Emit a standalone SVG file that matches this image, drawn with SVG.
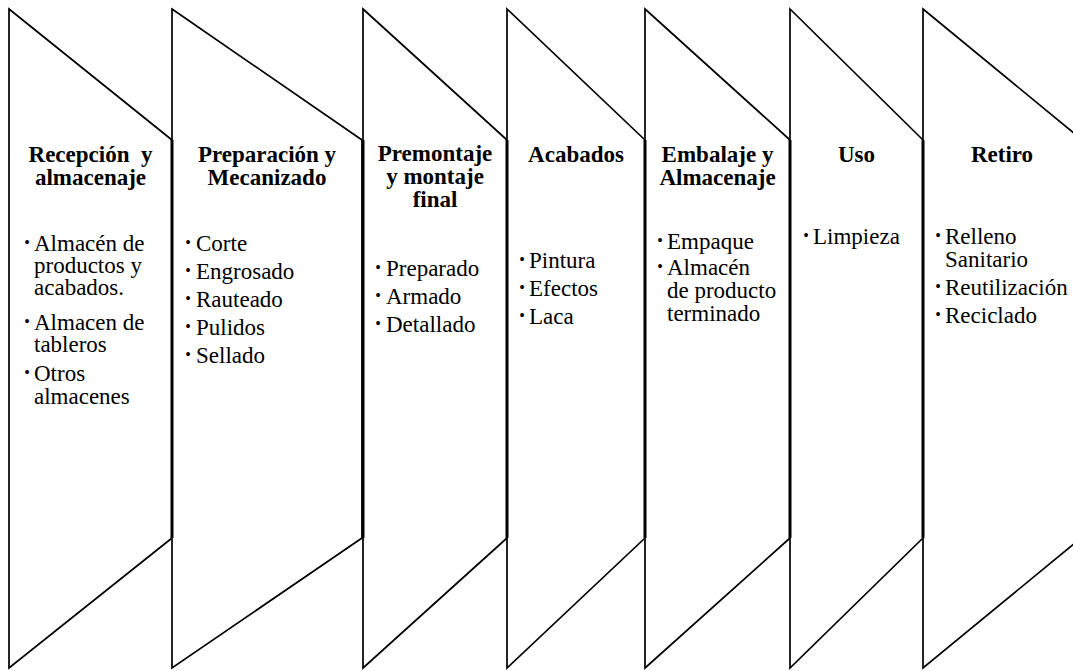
<svg xmlns="http://www.w3.org/2000/svg" width="1073" height="671" viewBox="0 0 1073 671">
<style>
.shape{fill:#ffffff;stroke:#000000;stroke-width:1.7;stroke-linejoin:miter}
.edge{fill:none;stroke:#000000;stroke-width:3}
text{font-family:'Liberation Serif',serif;fill:#000}
.title{font-weight:bold;font-size:23px;text-anchor:middle}
.item{font-size:23px}
.dot{font-size:16px;text-anchor:middle}
</style>
<rect width="1073" height="671" fill="#ffffff"/>
<g id="connectors"></g>
<g id="n1">
<polygon class="shape" points="9,9 172,140 172,538 9,668"/>
<text class="title" x="90.5" y="162" xml:space="preserve">Recepción  y</text>
<text class="title" x="90.5" y="185">almacenaje</text>
<text class="dot" x="27" y="248">•</text>
<text class="item" x="34" y="251">Almacén de</text>
<text class="item" x="34" y="273">productos y</text>
<text class="item" x="34" y="295">acabados.</text>
<text class="dot" x="27" y="327">•</text>
<text class="item" x="34" y="330">Almacen de</text>
<text class="item" x="34" y="352">tableros</text>
<text class="dot" x="27" y="378">•</text>
<text class="item" x="34" y="381">Otros</text>
<text class="item" x="34" y="404">almacenes</text>
</g>
<g id="n2">
<polygon class="shape" points="172,9 362,140 362,538 172,668"/>
<path class="edge" d="M172,140 V538"/>
<text class="title" x="267" y="162">Preparación y</text>
<text class="title" x="267" y="185">Mecanizado</text>
<text class="dot" x="188" y="248">•</text>
<text class="item" x="196" y="251">Corte</text>
<text class="dot" x="188" y="276">•</text>
<text class="item" x="196" y="279">Engrosado</text>
<text class="dot" x="188" y="304">•</text>
<text class="item" x="196" y="307">Rauteado</text>
<text class="dot" x="188" y="332">•</text>
<text class="item" x="196" y="335">Pulidos</text>
<text class="dot" x="188" y="360">•</text>
<text class="item" x="196" y="363">Sellado</text>
</g>
<g id="n3">
<polygon class="shape" points="363,9 507,140 507,538 363,668"/>
<path class="edge" d="M363,140 V538"/>
<text class="title" x="435" y="161">Premontaje</text>
<text class="title" x="435" y="184">y montaje</text>
<text class="title" x="435" y="207">final</text>
<text class="dot" x="378" y="273">•</text>
<text class="item" x="386" y="276">Preparado</text>
<text class="dot" x="378" y="301">•</text>
<text class="item" x="386" y="304">Armado</text>
<text class="dot" x="378" y="329">•</text>
<text class="item" x="386" y="332">Detallado</text>
</g>
<g id="n4">
<polygon class="shape" points="507,9 645,140 645,538 507,668"/>
<path class="edge" d="M507,140 V538"/>
<text class="title" x="576" y="162">Acabados</text>
<text class="dot" x="522" y="265">•</text>
<text class="item" x="529" y="268">Pintura</text>
<text class="dot" x="522" y="293">•</text>
<text class="item" x="529" y="296">Efectos</text>
<text class="dot" x="522" y="321">•</text>
<text class="item" x="529" y="324">Laca</text>
</g>
<g id="n5">
<polygon class="shape" points="645,9 790,140 790,538 645,668"/>
<path class="edge" d="M645,140 V538"/>
<text class="title" x="717.5" y="162">Embalaje y</text>
<text class="title" x="717.5" y="185">Almacenaje</text>
<text class="dot" x="660" y="246">•</text>
<text class="item" x="667" y="249">Empaque</text>
<text class="dot" x="660" y="272">•</text>
<text class="item" x="667" y="275">Almacén</text>
<text class="item" x="667" y="298">de producto</text>
<text class="item" x="667" y="321">terminado</text>
</g>
<g id="n6">
<polygon class="shape" points="790,9 923,140 923,538 790,668"/>
<path class="edge" d="M790,140 V538"/>
<text class="title" x="856.5" y="162">Uso</text>
<text class="dot" x="806" y="241">•</text>
<text class="item" x="813" y="244">Limpieza</text>
</g>
<g id="n7">
<polygon class="shape" points="923,9 1081,139 1081,538 923,668"/>
<path class="edge" d="M923,140 V538"/>
<text class="title" x="1002" y="162">Retiro</text>
<text class="dot" x="938" y="241">•</text>
<text class="item" x="945" y="244">Relleno</text>
<text class="item" x="945" y="267">Sanitario</text>
<text class="dot" x="938" y="292">•</text>
<text class="item" x="945" y="295">Reutilización</text>
<text class="dot" x="938" y="320">•</text>
<text class="item" x="945" y="323">Reciclado</text>
</g>
</svg>
